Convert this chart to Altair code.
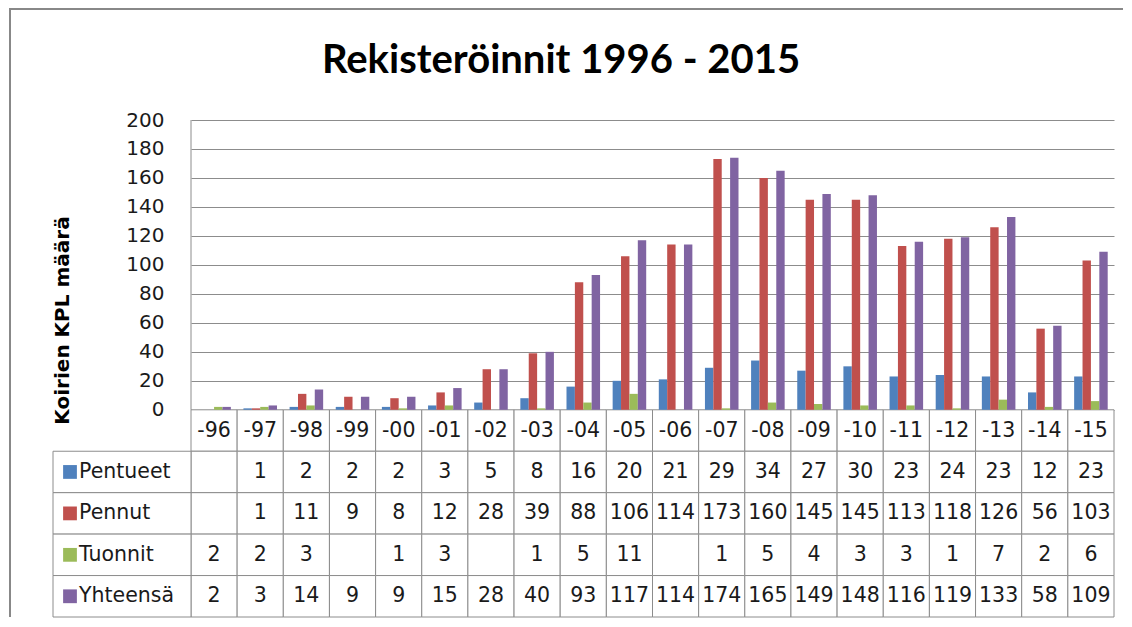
import altair as alt
import pandas as pd

# ---- data ----
years = ["-96", "-97", "-98", "-99", "-00", "-01", "-02", "-03", "-04", "-05",
         "-06", "-07", "-08", "-09", "-10", "-11", "-12", "-13", "-14", "-15"]
series = ["Pentueet", "Pennut", "Tuonnit", "Yhteensä"]
colors = ["#4F81BD", "#C0504D", "#9BBB59", "#8064A2"]

pentueet = [None, 1, 2, 2, 2, 3, 5, 8, 16, 20, 21, 29, 34, 27, 30, 23, 24, 23, 12, 23]
pennut = [None, 1, 11, 9, 8, 12, 28, 39, 88, 106, 114, 173, 160, 145, 145, 113, 118, 126, 56, 103]
tuonnit = [2, 2, 3, None, 1, 3, None, 1, 5, 11, None, 1, 5, 4, 3, 3, 1, 7, 2, 6]
yhteensa = [2, 3, 14, 9, 9, 15, 28, 40, 93, 117, 114, 174, 165, 149, 148, 116, 119, 133, 58, 109]

title_text = "Rekisteröinnit 1996 - 2015"
y_title = "Koirien  KPL määrä"
y_ticks = list(range(0, 201, 20))

values = dict(zip(series, [pentueet, pennut, tuonnit, yhteensa]))

# ---- layout helpers (table rows live below zero on the same y scale) ----
ROW = 28.6
Y_MIN = -5 * ROW
FONT = "DejaVu Sans"
GRID = "#8c8c8c"
TXT = "#1a1a1a"

recs = []
for si, s in enumerate(series):
    for yi, yr in enumerate(years):
        v = values[s][yi]
        recs.append(dict(year=yr, series=s, value=v,
                         label="" if v is None else str(v),
                         top=-(si + 1) * ROW, bottom=-(si + 2) * ROW,
                         mid=-(si + 1.5) * ROW))
df = pd.DataFrame(recs)
bars_df = df[df["value"].notna()].copy()
head_df = pd.DataFrame(dict(year=years, top=[0.0] * len(years),
                            bottom=[-ROW] * len(years), mid=[-0.5 * ROW] * len(years)))
leg_df = pd.DataFrame(dict(series=series,
                           top=[-(i + 1) * ROW for i in range(len(series))],
                           bottom=[-(i + 2) * ROW for i in range(len(series))],
                           mid=[-(i + 1.5) * ROW for i in range(len(series))]))
one = pd.DataFrame({"a": [0]})

yscale = alt.Scale(domain=[Y_MIN, 200], nice=False, zero=False)
xscale = alt.Scale(paddingInner=0, paddingOuter=0)
yaxis = alt.Axis(values=y_ticks, grid=True, gridColor=GRID, gridWidth=1,
                 domain=False, ticks=False,
                 labelFont=FONT, labelFontSize=20, labelColor=TXT,
                 labelPadding=27,
                 title=y_title, titleFont=FONT, titleFontSize=20,
                 titleFontWeight="bold", titleColor="#000",
                 titleX=-129, titleY=200, titleAngle=270,
                 titleAlign="center", titleBaseline="middle")


def X():
    return alt.X("year:N", sort=years, scale=xscale, axis=None)


def Yq(field):
    return alt.Y(field, scale=yscale, axis=yaxis)


color = alt.Color("series:N", scale=alt.Scale(domain=series, range=colors), legend=None)

bars = alt.Chart(bars_df).mark_bar().encode(
    x=X(),
    xOffset=alt.XOffset("series:N", sort=series,
                        scale=alt.Scale(paddingInner=0, paddingOuter=0.75)),
    y=Yq("value:Q"),
    y2=alt.datum(0),
    color=color,
)

left_axis = alt.Chart(one).mark_rule(color=GRID, strokeWidth=1).encode(
    x=alt.value(0), y=alt.Y(datum=0, scale=yscale, axis=yaxis), y2=alt.datum(200))

cells = alt.Chart(pd.concat([head_df, df[["year", "top", "bottom", "mid"]]])).mark_rect(
    fill="white", stroke=GRID, strokeWidth=1).encode(
    x=X(), y=Yq("top:Q"), y2="bottom:Q")

leg_cells = alt.Chart(leg_df).mark_rect(fill="white", stroke=GRID, strokeWidth=1).encode(
    x=alt.value(-138), x2=alt.value(0), y=Yq("top:Q"), y2="bottom:Q")

leg_sq = alt.Chart(leg_df).mark_square(size=190, opacity=1).encode(
    x=alt.value(-121), y=Yq("mid:Q"), color=color)

leg_txt = alt.Chart(leg_df).mark_text(
    align="left", baseline="middle", font=FONT, fontSize=20.5, color=TXT).encode(
    x=alt.value(-112), y=Yq("mid:Q"), text="series:N")

year_txt = alt.Chart(head_df).mark_text(
    baseline="middle", font=FONT, fontSize=20.5, color=TXT).encode(
    x=X(), y=Yq("mid:Q"), text="year:N")

val_txt = alt.Chart(df).mark_text(
    baseline="middle", font=FONT, fontSize=20.5, color=TXT).encode(
    x=X(), y=Yq("mid:Q"), text="label:N")

frame_v = alt.Chart(one).mark_rule(color="#888888", strokeWidth=2).encode(
    x=alt.value(-181), y=alt.value(-111), y2=alt.value(497))
frame_h = alt.Chart(one).mark_rule(color="#888888", strokeWidth=2).encode(
    x=alt.value(-182), x2=alt.value(932), y=alt.value(-111))

title = alt.Chart(one).mark_text(
    font="Lato", fontSize=40, fontWeight="bold", color="#000",
    align="center", baseline="middle").encode(
    x=alt.value(370), y=alt.value(-59), text=alt.value(title_text))

chart = alt.layer(
    cells, leg_cells, bars, left_axis, leg_sq, leg_txt, year_txt, val_txt,
    frame_v, frame_h, title,
).properties(
    width=923, height=497, padding=0, background="white"
).configure_view(stroke=None)

chart.save("out.html", embed_options={"renderer": "svg", "actions": False})
